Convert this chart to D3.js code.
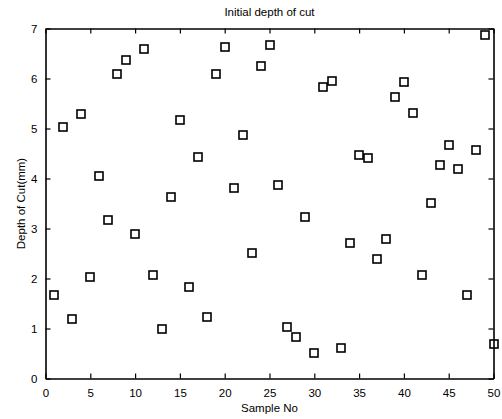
<!DOCTYPE html>
<html><head><meta charset="utf-8">
<script src="https://cdn.jsdelivr.net/npm/d3@7"></script>
<style>
body{margin:0;background:#fff;}
text{font-family:"Liberation Sans",Arial,sans-serif;fill:#000;}
</style></head>
<body><svg id="c" width="502" height="419"></svg>
<script>
const sampleNo = d3.range(1, 51);
const depth = [1.68,5.04,1.20,5.28,2.04,4.04,3.16,6.10,6.36,2.88,
  6.59,2.08,1.00,3.64,5.16,1.84,4.43,1.24,6.10,6.64,
  3.82,4.88,2.52,6.24,6.68,3.88,1.04,0.84,3.24,0.52,
  5.84,5.96,0.60,2.72,4.48,4.40,2.40,2.80,5.64,5.92,
  5.32,2.08,3.52,4.28,4.67,4.20,1.68,4.58,6.86,0.70];
const xTicks = [0,5,10,15,20,25,30,35,40,45,50];
const yTicks = [0,1,2,3,4,5,6,7];
const title = "Initial depth of cut";
const xLabel = "Sample No";
const yLabel = "Depth of Cut(mm)";

const L=45.5, R=493.5, T=28.5, B=378.5;
const svg = d3.select("#c");
const x = d3.scaleLinear().domain([0,50]).range([L,R]);
const y = d3.scaleLinear().domain([0,7]).range([B,T]);
const tl = 5;
const fmt = d3.format("d");

const gx = svg.append("g").attr("transform",`translate(0,${B})`)
  .call(d3.axisBottom(x).tickValues(xTicks).tickFormat(fmt).tickSize(-tl).tickPadding(tl+5).tickSizeOuter(0));
const gxt = svg.append("g").attr("transform",`translate(0,${T})`)
  .call(d3.axisTop(x).tickValues(xTicks).tickSize(-tl).tickFormat("").tickSizeOuter(0));
const gy = svg.append("g").attr("transform",`translate(${L},0)`)
  .call(d3.axisLeft(y).tickValues(yTicks).tickFormat(fmt).tickSize(-tl).tickPadding(tl+3).tickSizeOuter(0));
const gyr = svg.append("g").attr("transform",`translate(${R},0)`)
  .call(d3.axisRight(y).tickValues(yTicks).tickSize(-tl).tickFormat("").tickSizeOuter(0));

[gx,gxt,gy,gyr].forEach(g=>{
  g.select(".domain").attr("stroke","#000").attr("stroke-width",1.6);
  g.selectAll(".tick line").attr("stroke","#000").attr("stroke-width",1.2);
  g.selectAll(".tick text").attr("font-size",11.5).attr("font-family","Liberation Sans, Arial, sans-serif").attr("fill","#000");
});

svg.append("g").selectAll("rect").data(sampleNo).join("rect")
  .attr("x", (d,i)=>Math.round(x(d))-4)
  .attr("y", (d,i)=>Math.round(y(depth[i]))-4)
  .attr("width",8).attr("height",8)
  .attr("fill","none").attr("stroke","#000").attr("stroke-width",1.6);

svg.append("text").attr("x",(L+R)/2).attr("y",16).attr("text-anchor","middle")
  .attr("font-size",11.5).text(title);
svg.append("text").attr("x",(L+R)/2).attr("y",412).attr("text-anchor","middle")
  .attr("font-size",11.5).text(xLabel);
svg.append("text").attr("transform",`translate(25,${(T+B)/2}) rotate(-90)`).attr("text-anchor","middle")
  .attr("font-size",11.5).text(yLabel);
</script></body></html>
